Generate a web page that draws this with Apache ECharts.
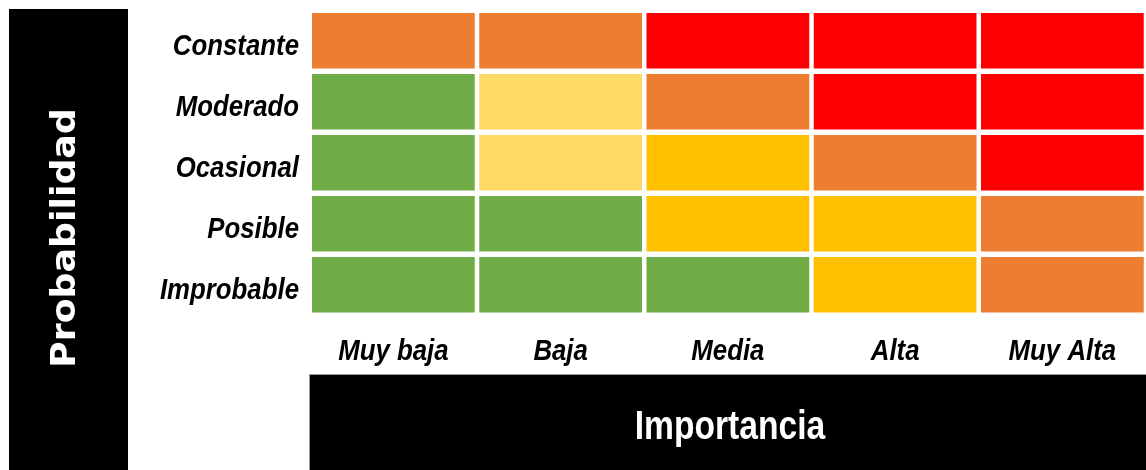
<!DOCTYPE html>
<html>
<head>
<meta charset="utf-8">
<style>
html,body{margin:0;padding:0;background:#fff;}
#chart{width:1146px;height:470px;}
</style>
<script src="https://cdn.jsdelivr.net/npm/echarts@6/dist/echarts.min.js"></script>
</head>
<body>
<div id="chart"></div>
<script>
// Columns (x): Importancia
const importancia = ['Muy baja', 'Baja', 'Media', 'Alta', 'Muy Alta'];
// Rows (y), top to bottom: Probabilidad
const probabilidad = ['Constante', 'Moderado', 'Ocasional', 'Posible', 'Improbable'];
// Risk level per cell (1 = bajo ... 5 = extremo), rows in the same order as probabilidad
const rowConstante  = [4, 4, 5, 5, 5];
const rowModerado   = [1, 2, 4, 5, 5];
const rowOcasional  = [1, 2, 3, 4, 5];
const rowPosible    = [1, 1, 3, 3, 4];
const rowImprobable = [1, 1, 1, 3, 4];
const riskRows = [rowConstante, rowModerado, rowOcasional, rowPosible, rowImprobable];
const levelColors = { 1: '#70AD47', 2: '#FFD966', 3: '#FFC000', 4: '#ED7D31', 5: '#FF0000' };
const yTitle = 'Probabilidad';
const xTitle = 'Importancia';

const data = [];
riskRows.forEach((row, r) => row.forEach((v, c) => data.push([c, r, v])));

const labelFont = '"Liberation Sans", Arial, sans-serif';
const narrow = 0.86;

const chart = echarts.init(document.getElementById('chart'), null, { renderer: 'canvas' });
chart.setOption({
  animation: false,
  backgroundColor: '#fff',
  grid: { left: 309.75, top: 10.25, width: 840, height: 305 },
  xAxis: {
    type: 'category', data: importancia,
    axisLine: { show: false }, axisTick: { show: false }, splitLine: { show: false },
    axisLabel: { show: false }
  },
  yAxis: {
    type: 'category', data: probabilidad, inverse: true,
    axisLine: { show: false }, axisTick: { show: false }, splitLine: { show: false },
    axisLabel: { show: false }
  },
  series: [{
    type: 'custom',
    data: data,
    renderItem: function (params, api) {
      const p = api.coord([api.value(0), api.value(1)]);
      const s = api.size([1, 1]);
      const gx = 4.5, gy = 5.5;
      return {
        type: 'rect',
        shape: { x: p[0] - s[0] / 2 + gx / 2, y: p[1] - s[1] / 2 + gy / 2, width: s[0] - gx, height: s[1] - gy },
        style: { fill: levelColors[api.value(2)] }
      };
    }
  }]
});

// Axis labels (narrow bold italic) placed through the axes' own scales
const graphics = [
  { type: 'rect', left: 9, top: 9, shape: { width: 119, height: 470 }, style: { fill: '#000' }, z: 10 },
  { type: 'rect', left: 309, top: 374, shape: { width: 840, height: 100 }, style: { fill: '#000', stroke: '#9a9a9a', lineWidth: 1 }, z: 10 },
  { type: 'text', x: 66, y: 238, rotation: Math.PI / 2, scaleX: 1.1, z: 11,
    style: { text: yTitle, fill: '#fff', font: 'bold 33px "DejaVu Sans", Verdana, sans-serif', align: 'center', verticalAlign: 'middle' } },
  { type: 'text', x: 730, y: 428, scaleX: 0.82, z: 11,
    style: { text: xTitle, fill: '#fff', font: 'bold 41px ' + labelFont, align: 'center', verticalAlign: 'middle' } }
];
probabilidad.forEach((name, r) => {
  const py = chart.convertToPixel({ yAxisIndex: 0 }, name);
  graphics.push({ type: 'text', x: 299, y: py + 6, scaleX: narrow, z: 5,
    style: { text: name, fill: '#000', font: 'italic bold 30px ' + labelFont, align: 'right', verticalAlign: 'middle' } });
});
const gridBottom = chart.convertToPixel({ yAxisIndex: 0 }, probabilidad[probabilidad.length - 1]) + 30.5;
importancia.forEach((name) => {
  const px = chart.convertToPixel({ xAxisIndex: 0 }, name);
  graphics.push({ type: 'text', x: px, y: gridBottom + 36, scaleX: narrow, z: 5,
    style: { text: name, fill: '#000', font: 'italic bold 30px ' + labelFont, align: 'center', verticalAlign: 'middle' } });
});
chart.setOption({ graphic: graphics });
</script>
</body>
</html>
